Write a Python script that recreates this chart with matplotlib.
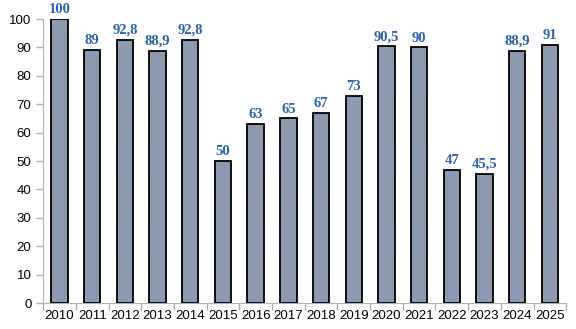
import matplotlib
matplotlib.use("Agg")
import matplotlib.pyplot as plt
import numpy as np

years = ["2010", "2011", "2012", "2013", "2014", "2015", "2016", "2017",
         "2018", "2019", "2020", "2021", "2022", "2023", "2024", "2025"]
values = [100, 89, 92.8, 88.9, 92.8, 50, 63, 65, 67, 73, 90.5, 90, 47, 45.5, 88.9, 91]
labels = ["100", "89", "92,8", "88,9", "92,8", "50", "63", "65", "67", "73",
          "90,5", "90", "47", "45,5", "88,9", "91"]

plt.rcParams['hatch.linewidth'] = 1.0
fig = plt.figure(figsize=(5.76, 3.29), dpi=100)
ax = fig.add_axes([0.075, 0.079, 0.908, 0.863])

x = np.arange(len(years))
ax.bar(x, values, width=0.5, color="#9a9a9a", edgecolor="#7d99d2",
       hatch="-----", linewidth=0, zorder=2)
ax.bar(x, values, width=0.5, fill=False, edgecolor="black", linewidth=1.3, zorder=3)

for xi, v, lab in zip(x, values, labels):
    ax.text(xi, v + 1.0, lab, ha="center", va="bottom", color="#2e62a8",
            fontsize=10.5, fontweight="bold", family="Liberation Serif")

ax.set_xlim(-0.5, len(years) - 0.5)
ax.set_ylim(0, 100)
ax.set_yticks(range(0, 101, 10))
ax.set_xticks(x)
ax.set_xticklabels(years)
ax.set_xticks(np.arange(-0.5, len(years), 1), minor=True)
ax.tick_params(axis="x", which="major", length=0, labelsize=9.5, pad=5)
ax.tick_params(axis="x", which="minor", length=5, color="#b0b0b0", width=1)
ax.tick_params(axis="y", length=5, color="#b0b0b0", width=1, labelsize=9.5)
for lab in ax.get_xticklabels() + ax.get_yticklabels():
    lab.set_family("Liberation Sans")

for s in ["top", "right"]:
    ax.spines[s].set_visible(False)
ax.spines["left"].set_color("#b0b0b0")
ax.spines["bottom"].set_color("#b0b0b0")

fig.savefig("out.png", dpi=100)
